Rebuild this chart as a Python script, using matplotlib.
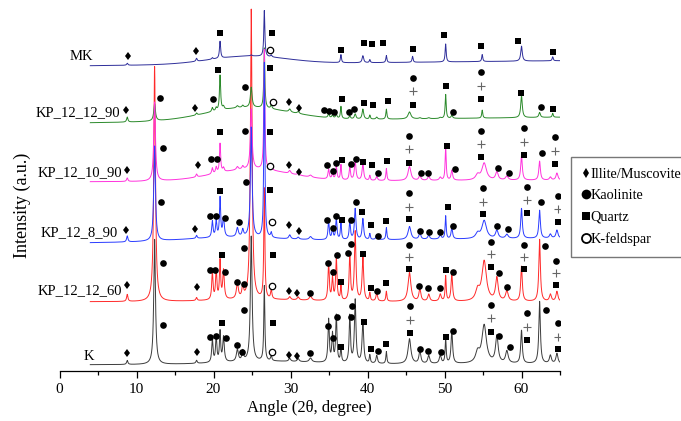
import numpy as np
import matplotlib
matplotlib.use('Agg')
import matplotlib.pyplot as plt
from matplotlib.lines import Line2D

plt.rcParams['font.family'] = ['Liberation Serif', 'DejaVu Serif']

# peak positions (2theta, deg) and half widths shared by all patterns
PEAK_POS = [8.8, 12.35, 17.8, 19.85, 20.35, 20.85, 21.3, 23.1, 23.8, 24.9,
            26.6, 27.5, 29.9, 31.0, 32.6, 34.95, 35.45, 35.95, 36.55, 37.7,
            38.4, 39.4, 40.3, 41.2, 42.45, 45.45, 45.85, 46.8, 47.95, 49.45,
            50.15, 50.95, 54.3, 54.9, 55.15, 56.8, 58.1, 60.0, 62.35, 63.75,
            64.05, 64.6]
PEAK_HWHM = [.10, .13, .10, .10, .10, .09, .12, .15, .12, .13,
             .08, .10, .15, .15, .20, .10, .10, .10, .08, .10,
             .12, .12, .08, .12, .08, .22, .08, .15, .15, .15,
             .08, .12, .30, .08, .35, .20, .20, .12, .12, .15,
             .08, .15]

# peak heights per sample (a.u.)
K_H = [4, 125, 3, 23, 25, 30, 25, 12, 10, 125,
       75, 5, 3, 3, 4, 43, 28, 47, 15, 47,
       63, 43, 8, 8, 12, 25, 0, 12, 8, 8,
       25, 33, 10, 0, 38, 27, 12, 33, 62, 8,
       0, 10]
KP60_H = [7, 235, 3, 27, 29, 38, 29, 15, 12, 290,
          110, 9, 3, 3, 4, 37, 22, 43, 14, 47,
          69, 44, 8, 8, 10, 29, 0, 12, 7, 7,
          25, 27, 10, 0, 40, 23, 10, 35, 62, 7,
          0, 10]
KP8_H = [6, 95, 3, 16, 16, 39, 19, 9, 7, 110,
         175, 5, 4, 2, 3, 18, 11, 21, 18, 18,
         31, 21, 6, 5, 12, 13, 0, 6, 4, 4,
         23, 11, 5, 0, 18, 8, 4, 30, 28, 4,
         0, 8]
KP10_H = [3.5, 79, 3, 6, 6, 29, 4, 3, 3, 60,
          120, 5, 3, 2, 2, 10, 6, 13, 15, 13,
          20, 17, 5, 4, 12, 14, 0, 5, 4, 3,
          34, 10, 5, 0, 17, 8, 4, 25, 19, 3,
          0, 7]
KP12_H = [5, 17, 2, 4, 3, 35, 3, 2, 2, 20,
          60, 4, 3, 2, 0, 4, 3, 4, 12, 3,
          5, 10, 4, 2, 10, 7, 0, 1, 1, 1,
          24, 3, 0, 8, 0, 0, 0, 22, 5, 0,
          4, 0]
MK_H = [2, 0, 3, 1.5, 0, 17, 0, 0, 0, 1,
        46, 2, 0, 0, 0, 0, 0, 0, 8, 0,
        0, 7, 3, 0, 7, 0, 6, 0, 0, 0,
        18, 0, 0, 7, 0, 0, 0, 15, 0, 0,
        4, 0]

# baseline start, baseline end, (hump height, centre, sigma)
K_BASE = (6, 7, (3, 27, 6))
KP60_BASE = (69, 69, (2, 26, 6))
KP8_BASE = (128, 132.5, (4, 22, 6))
KP10_BASE = (189, 190.5, (12, 25, 5))
KP12_BASE = (248, 253.5, (13.5, 24.5, 5.5))
MK_BASE = (305, 310, (8, 24.5, 5))

# phase markers (angle, intensity)
MK_ILL = [(8.9, 315), (17.7, 320)]
MK_KAO = []
MK_QTZ = [(20.85, 338), (27.55, 338), (36.55, 321), (39.6, 328), (40.6, 327),
          (42.05, 328), (45.95, 322), (49.9, 336), (54.7, 325), (59.5, 330),
          (64.1, 319)]
MK_PLUS = []
MK_KFS = [(27.3, 321)]

KP12_ILL = [(8.7, 261), (17.6, 263), (29.85, 269), (31.05, 263)]
KP12_KAO = [(13.05, 273), (19.9, 272), (24.05, 284), (34.4, 261), (35.0, 260),
            (35.7, 259), (37.65, 259), (38.3, 262), (45.9, 293), (51.15, 259),
            (54.8, 299), (62.5, 264)]
KP12_QTZ = [(20.6, 301), (27.3, 303), (36.7, 272), (39.6, 268), (40.7, 266),
            (42.6, 270), (45.9, 266), (50.2, 285), (54.8, 272), (59.9, 278),
            (64.1, 262)]
KP12_PLUS = [(45.9, 280), (54.8, 285)]
KP12_KFS = [(27.7, 269)]

KP10_ILL = [(8.8, 201), (18.0, 206), (29.85, 206), (31.1, 199)]
KP10_KAO = [(13.5, 223), (19.7, 212), (20.4, 212), (24.1, 240), (34.8, 206),
            (35.5, 200), (35.9, 208), (37.8, 207), (38.45, 212), (41.3, 198),
            (45.4, 235), (46.9, 198), (47.9, 198), (51.4, 202), (54.8, 240),
            (56.9, 203), (58.4, 198), (60.35, 243), (62.6, 218), (64.35, 234)]
KP10_QTZ = [(20.85, 239), (27.3, 239), (36.65, 211), (39.45, 209), (40.6, 206),
            (42.5, 210), (45.4, 208), (50.3, 225), (54.8, 214), (60.35, 216),
            (64.35, 207)]
KP10_PLUS = [(45.4, 222), (54.8, 227), (60.35, 229), (64.35, 220)]
KP10_KFS = [(27.4, 205)]

KP8_ILL = [(8.7, 141), (17.65, 142), (29.85, 146), (31.05, 140)]
KP8_KAO = [(13.15, 169), (19.55, 155), (20.3, 155), (21.5, 153), (23.35, 149),
           (24.2, 189), (34.8, 151), (35.55, 143), (35.9, 155), (37.8, 151),
           (38.45, 169), (41.3, 135), (45.4, 178), (46.8, 140), (48.0, 139),
           (49.45, 139), (51.15, 145), (54.95, 183), (56.8, 145), (58.3, 142),
           (60.65, 184), (62.5, 169), (64.7, 175)]
KP8_QTZ = [(20.9, 180), (27.3, 181), (36.7, 151), (39.3, 159), (40.45, 146),
           (42.4, 150), (45.4, 152), (50.4, 164), (54.95, 157), (60.65, 158),
           (64.7, 149)]
KP8_PLUS = [(45.4, 164), (54.95, 169), (60.65, 171), (64.7, 162)]
KP8_KFS = [(27.6, 149)]

KP60_ILL = [(8.8, 86), (17.9, 84), (29.8, 80), (30.9, 78)]
KP60_KAO = [(13.5, 108), (19.55, 101), (20.2, 101), (21.5, 99), (23.1, 89),
            (23.96, 87), (24.0, 123), (32.5, 78), (34.9, 108), (35.5, 99),
            (36.1, 116), (37.5, 118), (37.9, 127), (41.2, 80), (45.4, 126),
            (46.7, 85), (47.8, 83), (49.4, 83), (51.06, 99), (56.0, 129),
            (57.1, 98), (58.15, 84), (60.3, 126), (63.05, 125), (64.5, 110)]
KP60_QTZ = [(21.05, 116), (27.7, 116), (36.6, 89), (39.4, 117), (40.4, 83),
            (42.35, 88), (45.4, 102), (50.2, 101), (56.0, 104), (60.3, 102),
            (64.5, 86)]
KP60_PLUS = [(45.4, 114), (56.0, 117), (60.3, 114), (64.5, 98)]
KP60_KFS = [(27.6, 85)]

K_ILL = [(8.8, 18), (17.8, 19), (29.85, 16), (30.9, 15)]
K_KAO = [(13.5, 46), (19.55, 34), (20.3, 35), (21.6, 33), (23.0, 26),
         (23.75, 19), (23.96, 61), (32.5, 18), (34.9, 45), (35.5, 33),
         (36.1, 54), (37.8, 54), (38.0, 65), (41.4, 20), (45.5, 65),
         (46.8, 22), (47.9, 20), (49.5, 19), (51.1, 40), (56.0, 66),
         (57.1, 35), (58.5, 24), (60.75, 58), (63.2, 61), (64.7, 48)]
K_QTZ = [(21.05, 48), (27.7, 48), (36.6, 24), (39.5, 49), (40.4, 22),
         (42.35, 27), (45.5, 38), (50.2, 34), (56.0, 39), (60.75, 31),
         (64.7, 22)]
K_PLUS = [(45.5, 51), (56.0, 53), (60.75, 44), (64.7, 34)]
K_KFS = [(27.6, 19)]

ANGLE = np.arange(4.0, 65.0001, 0.01)


def pattern(heights, base):
    b0, b1, (hh, hc, hs) = base
    y = b0 + (b1 - b0) * (ANGLE - ANGLE[0]) / (ANGLE[-1] - ANGLE[0])
    y = y + hh * np.exp(-0.5 * ((ANGLE - hc) / hs) ** 2)
    for p, w, h in zip(PEAK_POS, PEAK_HWHM, heights):
        y = y + h / (1 + ((ANGLE - p) / w) ** 2)
    return y


def put_markers(ax, pts, z, **kw):
    if not pts:
        return
    xs, ys = zip(*pts)
    ax.plot(xs, ys, linestyle='none', zorder=z, **kw)


fig = plt.figure(figsize=(6.81, 4.21), dpi=100)
ax = fig.add_axes([59.5 / 681, 50.3 / 421, 500.5 / 681, 370.7 / 421])

# drawing order: later ones sit on top
traces = [
    (KP60_H, KP60_BASE, '#ff2a2a'),
    (KP12_H, KP12_BASE, '#2b8a2b'),
    (KP10_H, KP10_BASE, '#ff33dd'),
    (KP8_H, KP8_BASE, '#2a3cff'),
    (MK_H, MK_BASE, '#2e2e9a'),
    (K_H, K_BASE, '#3c3c3c'),
]
for i, (h, b, c) in enumerate(traces):
    ax.plot(ANGLE, pattern(h, b), color=c, lw=0.7, zorder=2 + i)

ill = dict(marker='d', ms=4.3, color='black', mew=0)
kao = dict(marker='o', ms=4.8, color='black', mew=0)
qtz = dict(marker='s', ms=4.6, color='black', mew=0)
plus = dict(marker='+', ms=6, color='#666666', mew=0.8)
kfs = dict(marker='o', ms=4.6, mfc='white', mec='black', mew=0.9)

marker_sets = [
    (MK_ILL, MK_KAO, MK_QTZ, MK_PLUS, MK_KFS),
    (KP12_ILL, KP12_KAO, KP12_QTZ, KP12_PLUS, KP12_KFS),
    (KP10_ILL, KP10_KAO, KP10_QTZ, KP10_PLUS, KP10_KFS),
    (KP8_ILL, KP8_KAO, KP8_QTZ, KP8_PLUS, KP8_KFS),
    (KP60_ILL, KP60_KAO, KP60_QTZ, KP60_PLUS, KP60_KFS),
    (K_ILL, K_KAO, K_QTZ, K_PLUS, K_KFS),
]
for a, b, c, d, e in marker_sets:
    put_markers(ax, a, 10, **ill)
    put_markers(ax, b, 10, **kao)
    put_markers(ax, c, 10, **qtz)
    put_markers(ax, d, 10, **plus)
    put_markers(ax, e, 10, **kfs)

# sample names
names = [('MK', 4.35, 314), ('KP_12_12_90', 7.86, 258), ('KP_12_10_90', 8.1, 198),
         ('KP_12_8_90', 7.6, 138), ('KP_12_12_60', 8.1, 80), ('K', 4.5, 14)]
for txt, x, y in names:
    ax.text(x, y, txt, ha='right', va='center', fontsize=10.5, zorder=20)

ax.set_xlim(0, 65)
ax.set_ylim(0, 370.7)
for s in ['left', 'top', 'right']:
    ax.spines[s].set_visible(False)
ax.spines['bottom'].set_linewidth(0.9)
ax.set_yticks([])
ax.set_xticks(range(0, 61, 10))
ax.set_xticks(range(5, 66, 10), minor=True)
ax.tick_params(axis='x', which='major', direction='out', length=5, width=0.9,
               labelsize=11, pad=4)
ax.tick_params(axis='x', which='minor', direction='out', length=3, width=0.9)
ax.patch.set_alpha(0)
ax.set_xlabel('Angle (2θ, degree)', fontsize=12, labelpad=3)
fig.text(22 / 681, 1 - 205 / 421, 'Intensity (a.u.)', rotation=90,
         ha='center', va='center', fontsize=13)

handles = [
    Line2D([], [], linestyle='none', marker='d', ms=5.5, color='black', mew=0),
    Line2D([], [], linestyle='none', marker='o', ms=7, color='black', mew=0),
    Line2D([], [], linestyle='none', marker='s', ms=6, color='black', mew=0),
    Line2D([], [], linestyle='none', marker='o', ms=6.5, mfc='white',
           mec='black', mew=1.3),
]
labels = ['Illite/Muscovite', 'Kaolinite', 'Quartz', 'K-feldspar']
leg = fig.legend(handles, labels, loc='upper left',
                 bbox_to_anchor=(571 / 681, 1 - 157 / 421), frameon=True,
                 fancybox=False, fontsize=10.3, handlelength=0.55,
                 handletextpad=0.05, borderpad=0.75, labelspacing=0.6,
                 borderaxespad=0)
leg.get_frame().set_edgecolor('#555555')
leg.get_frame().set_linewidth(1.0)

fig.savefig('out.png', dpi=100)
